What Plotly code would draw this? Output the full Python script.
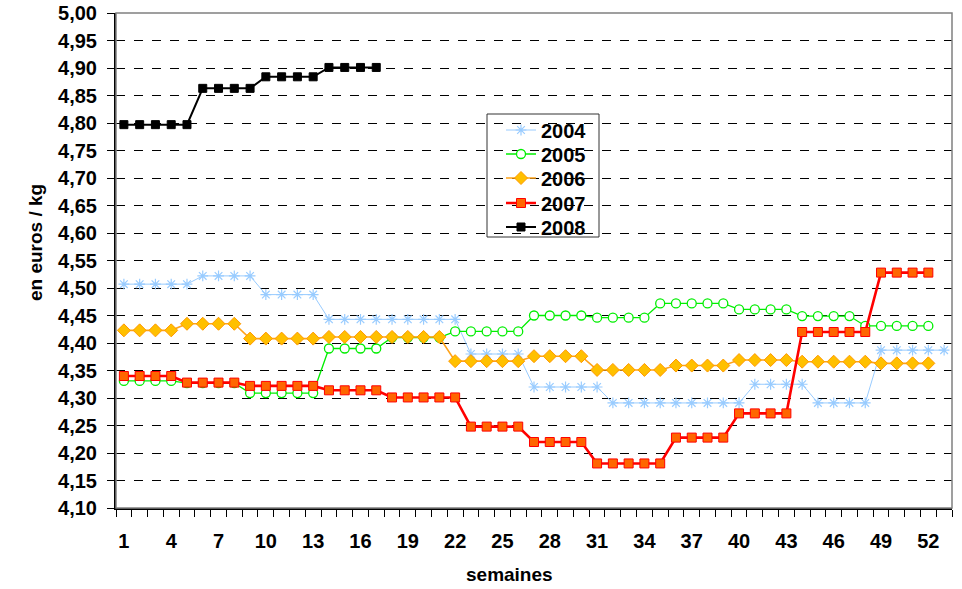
import plotly.graph_objects as go

weeks = list(range(1, 54))

y2004 = [4.507]*5 + [4.522]*4 + [4.488]*4 + [4.443]*9 + [4.380]*4 + [4.320]*5 + [4.291]*9 + [4.325]*4 + [4.291]*4 + [4.387]*5
y2005 = [4.331]*4 + [4.327]*4 + [4.309]*5 + [4.390]*4 + [4.410]*4 + [4.421]*5 + [4.450]*4 + [4.446]*4 + [4.472]*5 + [4.461]*4 + [4.449]*4 + [4.431]*5
y2006 = [4.423]*4 + [4.435]*4 + [4.408]*5 + [4.411]*8 + [4.367]*5 + [4.376]*4 + [4.351]*5 + [4.359]*4 + [4.369]*4 + [4.366]*5 + [4.363]*4
y2007 = [4.340]*4 + [4.328]*4 + [4.322]*5 + [4.314]*4 + [4.301]*5 + [4.248]*4 + [4.220]*4 + [4.181]*5 + [4.228]*4 + [4.272]*4 + [4.420]*5 + [4.528]*4
y2008 = [4.797]*5 + [4.863]*4 + [4.884]*4 + [4.901]*4

series_names = ["2004", "2005", "2006", "2007", "2008"]
xtick_vals = list(range(1, 53, 3))
ytick_vals = [round(4.10 + 0.05*i, 2) for i in range(19)]

FONT = "Liberation Sans, Arial, sans-serif"
W, H = 962, 589
L, R, T, B = 116, 10, 13, 81
PW, PH = W - L - R, H - T - B


def px(xp):
    return (xp - L) / PW


def py(yp):
    return (H - B - yp) / PH


legend_ids = ["legend", "legend2", "legend3", "legend4", "legend5"]

styles = [
    dict(line=dict(color="#99CCFF", width=1),
         marker=dict(symbol="asterisk-open", size=9, color="#99CCFF",
                     line=dict(color="#99CCFF", width=1.2))),
    dict(line=dict(color="#00EE00", width=1.3),
         marker=dict(symbol="circle", size=9, color="white",
                     line=dict(color="#00EE00", width=1.3))),
    dict(line=dict(color="#FFA31A", width=1.6),
         marker=dict(symbol="diamond", size=10, color="#FFC000",
                     line=dict(color="#FF9900", width=1))),
    dict(line=dict(color="#FF0000", width=2.6),
         marker=dict(symbol="square", size=9, color="#FF6600",
                     line=dict(color="#FF0000", width=1))),
    dict(line=dict(color="#000000", width=2),
         marker=dict(symbol="square", size=8, color="#000000",
                     line=dict(color="#000000", width=1))),
]

fig = go.Figure()
for name, ys, st, lid in zip(series_names, [y2004, y2005, y2006, y2007, y2008], styles, legend_ids):
    fig.add_trace(go.Scatter(x=weeks[:len(ys)], y=ys, name=name, mode="lines+markers",
                             legend=lid, **st))

# legend box (covers gridlines, beneath traces)
fig.add_shape(type="rect", xref="paper", yref="paper",
              x0=px(487), x1=px(599), y0=py(237), y1=py(114),
              fillcolor="white", line=dict(color="#333333", width=1), layer="between")

# plot-area border (top and right), gray
fig.add_shape(type="rect", xref="paper", yref="paper", x0=0, y0=0, x1=1, y1=1,
              line=dict(color="#808080", width=1.5), layer="above")

legend_centers = [130, 154, 178, 203, 227]
layout_legends = {}
for lid, yc in zip(legend_ids, legend_centers):
    layout_legends[lid] = dict(x=px(501), y=py(yc), xanchor="left", yanchor="middle",
                               bgcolor="rgba(0,0,0,0)", borderwidth=0,
                               font=dict(size=20, family=FONT, weight="bold", color="black"),
                               itemwidth=30)

fig.update_layout(
    width=W, height=H,
    margin=dict(l=L, r=R, t=T, b=B),
    paper_bgcolor="white", plot_bgcolor="white",
    separators=", ",
    font=dict(family=FONT, color="black"),
    showlegend=True,
    xaxis=dict(range=[0.5, 53.5], tickmode="array", tickvals=xtick_vals,
               ticktext=[str(v) for v in xtick_vals], ticks="",
               showgrid=False, zeroline=False, automargin=False,
               showline=True, linecolor="black", linewidth=2,
               tickfont=dict(size=20, weight="bold"),
               ticklabelstandoff=14,
               minor=dict(tick0=0.5, dtick=1, ticks="outside", ticklen=7,
                          tickcolor="black", tickwidth=1, showgrid=False)),
    yaxis=dict(range=[4.10, 5.00], tickmode="array", tickvals=ytick_vals,
               tickformat=".2f", ticks="outside", ticklen=7, tickcolor="black",
               showgrid=True, gridcolor="black", griddash="dash", gridwidth=1,
               zeroline=False, showline=True, linecolor="black", linewidth=2,
               automargin=False,
               tickfont=dict(size=20, weight="bold"),
               ticklabelstandoff=6),
    annotations=[
        dict(text="semaines", xref="paper", yref="paper", x=px(509), y=py(574),
             xanchor="center", yanchor="middle", showarrow=False,
             font=dict(size=19, weight="bold", family=FONT, color="black")),
        dict(text="en euros / kg", xref="paper", yref="paper", x=px(35), y=py(243),
             xanchor="center", yanchor="middle", showarrow=False, textangle=-90,
             font=dict(size=19, weight="bold", family=FONT, color="black")),
    ],
    **layout_legends,
)

fig.write_html("out.html", config={"displayModeBar": False},
               post_script="document.body.style.margin='0';document.body.style.padding='0';")
